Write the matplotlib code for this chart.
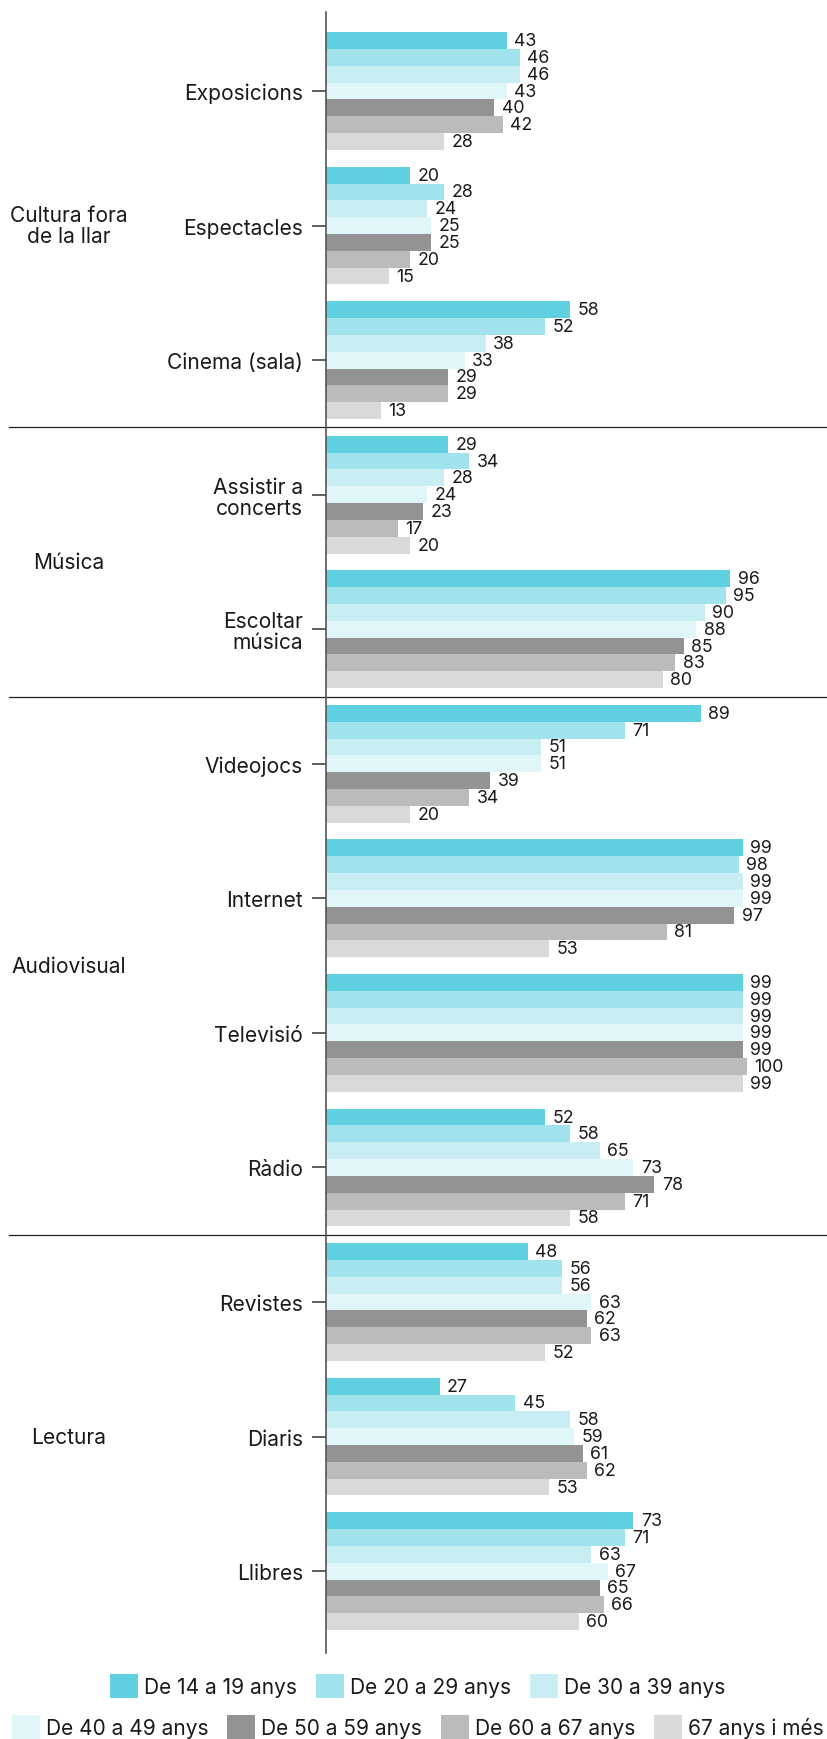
import matplotlib
matplotlib.use("Agg")
import matplotlib.pyplot as plt
import matplotlib.transforms as mtransforms
from matplotlib.patches import Patch
import numpy as np

plt.rcParams['font.family'] = ['Inter', 'DejaVu Sans']

# ---------------- data ----------------
categories = ["Exposicions", "Espectacles", "Cinema (sala)",
              "Assistir a\nconcerts", "Escoltar\nmúsica",
              "Videojocs", "Internet", "Televisió", "Ràdio",
              "Revistes", "Diaris", "Llibres"]
groups = ["Cultura fora\nde la llar", "Música", "Audiovisual", "Lectura"]
group_sizes = [3, 2, 4, 3]
series_names = ["De 14 a 19 anys", "De 20 a 29 anys", "De 30 a 39 anys",
                "De 40 a 49 anys", "De 50 a 59 anys", "De 60 a 67 anys",
                "67 anys i més"]
# values[category][series]
values = [
    [43, 46, 46, 43, 40, 42, 28],
    [20, 28, 24, 25, 25, 20, 15],
    [58, 52, 38, 33, 29, 29, 13],
    [29, 34, 28, 24, 23, 17, 20],
    [96, 95, 90, 88, 85, 83, 80],
    [89, 71, 51, 51, 39, 34, 20],
    [99, 98, 99, 99, 97, 81, 53],
    [99, 99, 99, 99, 99, 100, 99],
    [52, 58, 65, 73, 78, 71, 58],
    [48, 56, 56, 63, 62, 63, 52],
    [27, 45, 58, 59, 61, 62, 53],
    [73, 71, 63, 67, 65, 66, 60],
]
colors = ["#5ED0E0", "#A0E3EC", "#C8EDF3", "#E0F6F8",
          "#939393", "#BBBBBB", "#D9D9D9"]

# ---------------- figure ----------------
W, H = 827, 1740
fig = plt.figure(figsize=(W / 100, H / 100), dpi=100)
ax_left = 326 / W
ax_bottom = 1 - 1654 / H
ax_top = 1 - 12.7 / H
ax = fig.add_axes([ax_left, ax_bottom, 1 - ax_left, ax_top - ax_bottom])

n_series = len(series_names)
slot = n_series + 1
vals = np.array(values)
cat_idx = np.arange(len(categories))

for j in range(n_series):
    ypos = cat_idx * slot + j
    ax.barh(ypos, vals[:, j], height=1.0, color=colors[j], label=series_names[j],
            linewidth=0)
    for y, v in zip(ypos, vals[:, j]):
        ax.annotate(f"{v}", xy=(v, y), xytext=(5.3, 0), textcoords="offset points",
                    ha="left", va="center", fontsize=12.8, color="#1a1a1a")

ax.set_xlim(0, (W - 326) / 4.21)
ax.set_ylim(len(categories) * slot - 1 - 0.5 + 1.37, -0.5 - 1.22)

ax.set_yticks(cat_idx * slot + (n_series - 1) / 2)
ax.set_yticklabels(categories, fontsize=15.1, color="#1a1a1a", linespacing=1.05)
ax.tick_params(axis="y", length=10, width=1.1, color="#333333", pad=6.5)
ax.set_xticks([])
for s in ["top", "right", "bottom"]:
    ax.spines[s].set_visible(False)
ax.spines["left"].set_color("#555555")
ax.spines["left"].set_linewidth(1.2)

# separators and group labels
trans = mtransforms.blended_transform_factory(fig.transFigure, ax.transData)
start = 0
for gi, (g, n) in enumerate(zip(groups, group_sizes)):
    first = start
    last = start + n - 1
    ymid = ((first * slot + 3) + (last * slot + 3)) / 2
    ax.text(69 / W, ymid, g, transform=trans, ha="center", va="center",
            fontsize=15.1, color="#1a1a1a", linespacing=1.1, multialignment="center")
    if gi < len(groups) - 1:
        ysep = last * slot + n_series
        ax.plot([9 / W, 1.0], [ysep, ysep], transform=trans, color="#222222",
                lw=0.9, clip_on=False)
    start += n

# legend: two rows
handles = [Patch(facecolor=c, edgecolor="none") for c in colors]
common = dict(frameon=False, fontsize=15, handlelength=1.34, handleheight=1.34,
              handletextpad=0.29, columnspacing=0.9, borderpad=0, borderaxespad=0,
              loc="center")
leg1 = fig.legend(handles[:3], series_names[:3], ncol=3,
                  bbox_to_anchor=(0.505, 1 - 1687 / H), **common)
leg2 = fig.legend(handles[3:], series_names[3:], ncol=4,
                  bbox_to_anchor=(0.505, 1 - 1728 / H), **common)
for leg in (leg1, leg2):
    for t in leg.get_texts():
        t.set_color("#1a1a1a")

fig.savefig("out.png", dpi=100)
